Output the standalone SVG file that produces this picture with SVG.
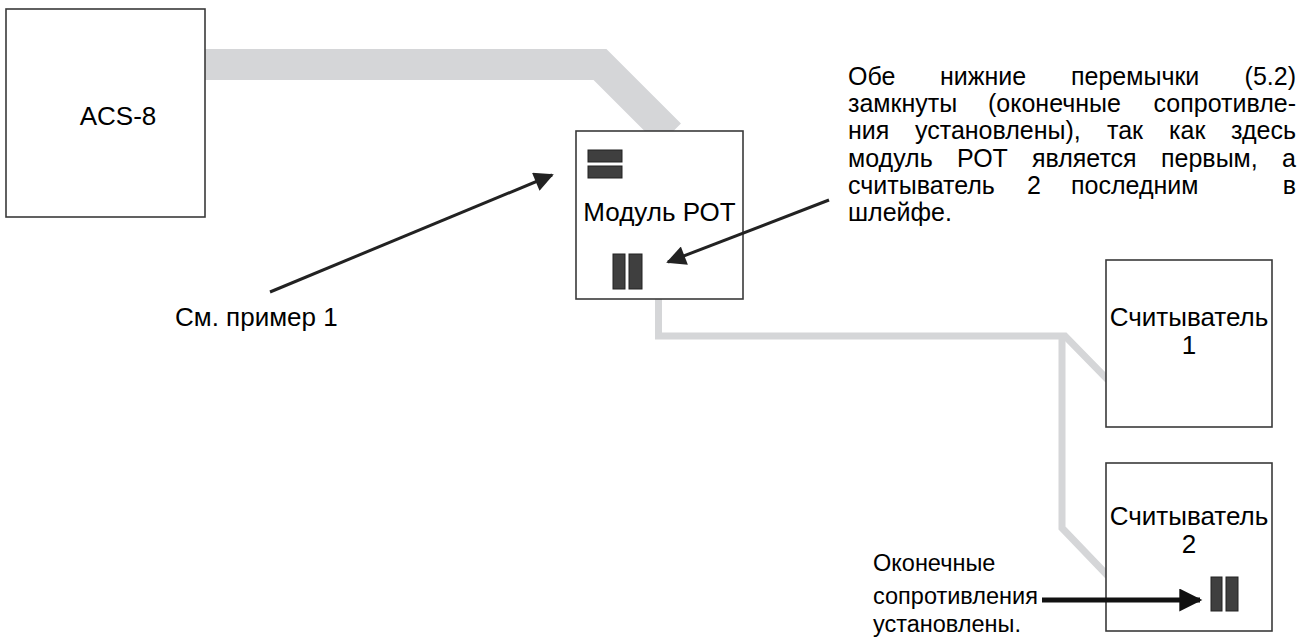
<svg xmlns="http://www.w3.org/2000/svg" width="1304" height="639" viewBox="0 0 1304 639">
<defs>
<style>
.box{fill:#fff;stroke:#3a3a3a;stroke-width:1.6}
.jmp{fill:#3f3f3f;stroke:#222;stroke-width:1}
.t{font-family:"Liberation Sans",Arial,sans-serif;font-size:26px;fill:#000}
.p{font-size:25px}
.s{font-size:23.5px}
.c{text-anchor:middle}
.e{text-anchor:end}
.bus{fill:none;stroke:#d5d6d8;stroke-linejoin:miter}
.arr{stroke:#222;stroke-width:3;fill:none}
</style>
<marker id="ah" viewBox="0 0 10 10" refX="9" refY="5" markerWidth="8" markerHeight="6.5" markerUnits="strokeWidth" orient="auto">
<path d="M0,0 L10,5 L0,10 z" fill="#222"/>
</marker>
<marker id="ah2" viewBox="0 0 10 10" refX="9" refY="5" markerWidth="5" markerHeight="4.6" markerUnits="strokeWidth" orient="auto">
<path d="M0,0 L10,5 L0,10 z" fill="#111"/>
</marker>
</defs>
<rect width="1304" height="639" fill="#fff"/>
<g id="connectors">
<polyline class="bus" stroke-width="31" points="200,64.5 600,64.5 670,134.5"/>
<polyline class="bus" stroke-width="7" points="658.5,295 658.5,336 1065,336 1108,380"/>
<polyline class="bus" stroke-width="7" points="1062,336 1062,528 1108,576"/>
</g>
<g id="acs8">
<rect class="box" x="6" y="9" width="199" height="208"/>
<text class="t c" x="118" y="125">ACS-8</text>
</g>
<g id="pot">
<rect class="box" x="576" y="131" width="167" height="168"/>
<rect class="jmp" x="588" y="150" width="34" height="12"/>
<rect class="jmp" x="588" y="166" width="34" height="12"/>
<text class="t c" x="659.5" y="221">Модуль РОТ</text>
<rect class="jmp" x="613" y="254" width="12" height="35"/>
<rect class="jmp" x="629" y="254" width="13" height="35"/>
</g>
<g id="reader1">
<rect class="box" x="1106" y="260" width="166" height="167"/>
<text class="t c" x="1189" y="326">Считыватель</text>
<text class="t c" x="1189" y="354">1</text>
</g>
<g id="reader2">
<rect class="box" x="1106" y="463" width="166" height="168"/>
<text class="t c" x="1189" y="525">Считыватель</text>
<text class="t c" x="1189" y="553">2</text>
<rect class="jmp" x="1211" y="577" width="11" height="34"/>
<rect class="jmp" x="1226" y="577" width="12" height="34"/>
</g>
<g id="annotation-arrows">
<line class="arr" x1="270" y1="292" x2="552" y2="175" marker-end="url(#ah)"/>
<line class="arr" x1="829" y1="200" x2="668" y2="262" marker-end="url(#ah)"/>
<line stroke="#111" stroke-width="5" x1="1042" y1="600" x2="1200" y2="600" marker-end="url(#ah2)"/>
</g>
<g id="note-example">
<text class="t" x="175" y="326" font-size="27">См. пример 1</text>
</g>
<g id="note-jumpers">
<text class="t p" y="85"><tspan x="848">Обе</tspan><tspan x="940">нижние</tspan><tspan x="1071">перемычки</tspan><tspan x="1296" class="e">(5.2)</tspan></text>
<text class="t p" y="112"><tspan x="848">замкнуты</tspan><tspan x="988">(оконечные</tspan><tspan x="1296" class="e">сопротивле-</tspan></text>
<text class="t p" y="139"><tspan x="848">ния</tspan><tspan x="915">установлены),</tspan><tspan x="1107">так</tspan><tspan x="1169">как</tspan><tspan x="1296" class="e">здесь</tspan></text>
<text class="t p" y="167"><tspan x="848">модуль</tspan><tspan x="957">РОТ</tspan><tspan x="1032">является</tspan><tspan x="1161">первым,</tspan><tspan x="1296" class="e">а</tspan></text>
<text class="t p" y="194"><tspan x="848">считыватель</tspan><tspan x="1027">2</tspan><tspan x="1071">последним</tspan><tspan x="1296" class="e">в</tspan></text>
<text class="t p" y="221"><tspan x="848">шлейфе.</tspan></text>
</g>
<g id="note-terminators">
<text class="t s" x="873" y="571">Оконечные</text>
<text class="t s" x="873" y="604">сопротивления</text>
<text class="t s" x="873" y="632">установлены.</text>
</g>
</svg>
